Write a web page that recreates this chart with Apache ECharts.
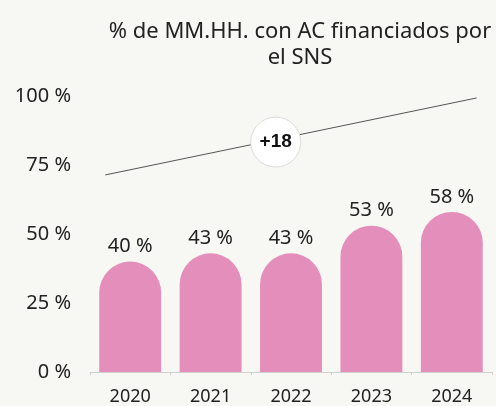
<!DOCTYPE html>
<html>
<head>
<meta charset="utf-8">
<script src="https://cdn.jsdelivr.net/npm/echarts@6/dist/echarts.min.js"></script>
<style>html,body{margin:0;padding:0;background:#f7f7f3}#c{width:496px;height:406px}</style>
</head>
<body>
<div id="c"></div>
<script>
const categories = ['2020', '2021', '2022', '2023', '2024'];
const values = [40, 43, 43, 53, 58];
const yTicks = [0, 25, 50, 75, 100];
const trendLine = [[0.19, 71.4], [4.81, 99.3]];
const trendBadge = [[2.31, 83.3, '+18']];
const titleText = '% de MM.HH. con AC financiados por\nel SNS';

const chart = echarts.init(document.getElementById('c'), null, {renderer: 'canvas'});
const FONT = 'Noto Sans';
chart.setOption({
  backgroundColor: '#f7f7f3',
  animation: false,
  title: {
    text: titleText,
    left: 295, top: 14, textAlign: 'center',
    textStyle: {fontFamily: FONT, fontSize: 22, fontWeight: 'normal', color: '#222', lineHeight: 26}
  },
  grid: {left: 90, right: 4, top: 96, bottom: 34, containLabel: false},
  xAxis: [{
    type: 'category', data: categories,
    axisLine: {lineStyle: {color: '#d0d0d0'}},
    axisTick: {show: true, length: 3, lineStyle: {color: '#d0d0d0'}},
    axisLabel: {fontFamily: FONT, fontSize: 18, color: '#222', margin: 16}
  }, {
    type: 'value', min: 0, max: 5, show: false
  }],
  yAxis: {
    type: 'value', min: 0, max: 100, interval: 25,
    splitLine: {show: false}, axisLine: {show: false}, axisTick: {show: false},
    axisLabel: {fontFamily: FONT, fontSize: 20, color: '#222', margin: 19,
      formatter: v => yTicks.includes(v) ? v + ' %' : ''}
  },
  series: [{
    type: 'bar', data: values, barWidth: '77%',
    itemStyle: {color: '#e48fbb', borderRadius: [31, 31, 0, 0]},
    label: {show: true, position: 'top', distance: 5, formatter: '{c} %',
      fontFamily: FONT, fontSize: 20, color: '#222'}
  }, {
    type: 'line', xAxisIndex: 1, data: trendLine, symbol: 'none',
    lineStyle: {color: '#555', width: 1}, silent: true, z: 3
  }, {
    type: 'scatter', xAxisIndex: 1, data: trendBadge, symbol: 'circle', symbolSize: 50,
    itemStyle: {color: '#fff', borderColor: '#dcdcdc', borderWidth: 1, opacity: 1},
    label: {show: true, position: 'inside', formatter: p => p.data[2],
      fontFamily: 'Liberation Sans', fontSize: 19, fontWeight: 'bold', color: '#111'},
    z: 4
  }]
});
</script>
</body>
</html>
